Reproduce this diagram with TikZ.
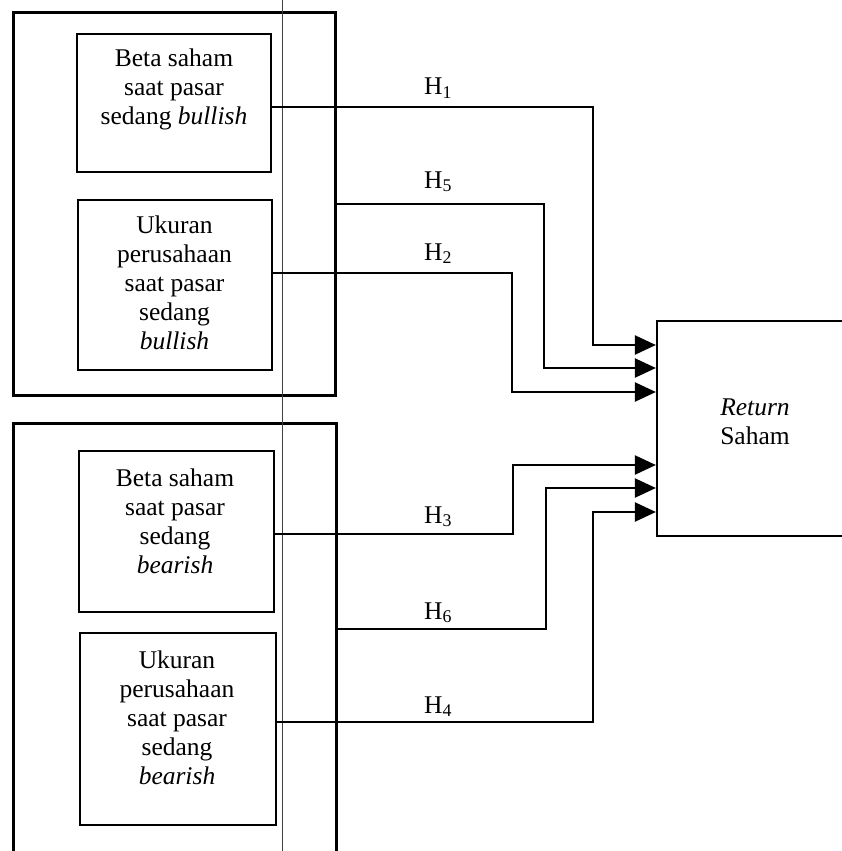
\documentclass[tikz,border=0pt]{standalone}
\usepackage{fontspec}
\setmainfont{Liberation Serif}
\usetikzlibrary{arrows.meta}
\begin{document}
\begin{tikzpicture}[x=1pt,y=1pt,
  box/.style={draw, rectangle, inner sep=0pt, line width=2.6pt},
  outerbox/.style={draw, rectangle, inner sep=0pt, line width=3pt},
  txt/.style={align=center, inner sep=0pt, anchor=north, font=\fontsize{25.5}{29}\selectfont},
  lbl/.style={anchor=base, inner sep=0pt, font=\fontsize{25.5}{29}\selectfont},
  conn/.style={line width=2.2pt, -{Triangle[length=21pt,width=19pt]}},
  thinline/.style={line width=1pt, black!75}]
\clip (0,0) rectangle (842,-851);
\fill[white] (0,0) rectangle (842,-851);

% outer boxes
\node[outerbox, minimum width=322pt, minimum height=382pt] (o1) at (174,-204) {};
\node[outerbox, minimum width=323pt, minimum height=457pt] (o2) at (174.5,-651.5) {};

% inner boxes
\node[box, minimum width=194pt, minimum height=138pt] (b1) at (174,-103) {};
\node[box, minimum width=194pt, minimum height=170pt] (b2) at (175,-285) {};
\node[box, minimum width=195pt, minimum height=161pt] (b3) at (176.5,-531.5) {};
\node[box, minimum width=196pt, minimum height=192pt] (b4) at (178,-729) {};

% target box
\node[box, line width=2.2pt, minimum width=243pt, minimum height=215pt] (R) at (778.5,-428.5) {};

% texts
\node[txt] (t1) at (174,-49) {Beta saham\\saat pasar\\sedang \textit{bullish}};
\node[txt] (t2) at (174.5,-216) {Ukuran\\perusahaan\\saat pasar\\sedang\\\textit{bullish}};
\node[txt] (t3) at (175,-469) {Beta saham\\saat pasar\\sedang\\\textit{bearish}};
\node[txt] (t4) at (177,-651) {Ukuran\\perusahaan\\saat pasar\\sedang\\\textit{bearish}};
\node[txt] (tR) at (755,-399) {\textit{Return}\\Saham};

% thin vertical line
\coordinate (vt) at (282,0);
\coordinate (vb) at (282,-851);
\draw[thinline] (vt) -- (vb);

% connectors
\coordinate (k1) at (593,-345);
\coordinate (k5) at (544,-368);
\coordinate (k2) at (512,-392);
\coordinate (k3) at (513,-465);
\coordinate (k6) at (546,-488);
\coordinate (k4) at (593,-512);
\draw[conn] ([yshift=-4pt]b1.east) -| (k1) -- (k1 -| R.west);
\draw[conn] (o1.east) -| (k5) -- (k5 -| R.west);
\draw[conn] ([yshift=12pt]b2.east) -| (k2) -- (k2 -| R.west);
\draw[conn] ([yshift=-2.5pt]b3.east) -| (k3) -- (k3 -| R.west);
\draw[conn] ([yshift=22.5pt]o2.east) -| (k6) -- (k6 -| R.west);
\draw[conn] ([yshift=7pt]b4.east) -| (k4) -- (k4 -| R.west);

% labels
\node[lbl] (h1) at (438,-95) {H\textsubscript{1}};
\node[lbl] (h5) at (438,-188) {H\textsubscript{5}};
\node[lbl] (h2) at (438,-260) {H\textsubscript{2}};
\node[lbl] (h3) at (438,-523) {H\textsubscript{3}};
\node[lbl] (h6) at (438,-619) {H\textsubscript{6}};
\node[lbl] (h4) at (438,-713) {H\textsubscript{4}};
\end{tikzpicture}
\end{document}
